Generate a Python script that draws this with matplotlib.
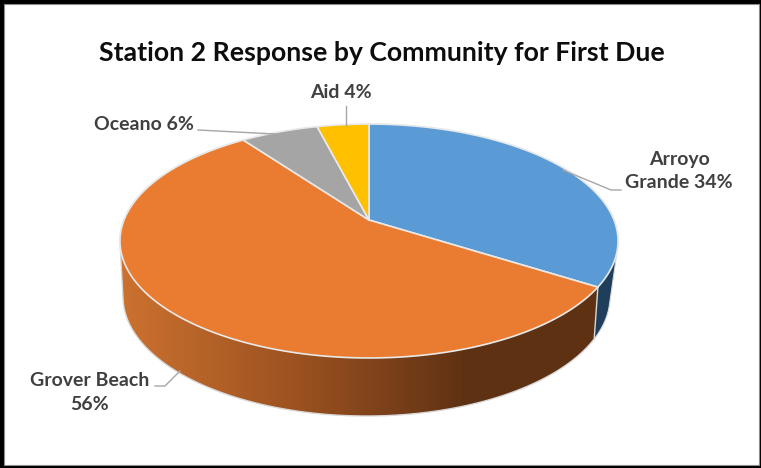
import numpy as np
import matplotlib
matplotlib.use('Agg')
import matplotlib.pyplot as plt
from matplotlib.colors import LinearSegmentedColormap
from matplotlib.patches import Polygon, Rectangle

plt.rcParams['font.family'] = ['Lato', 'DejaVu Sans']

# Share of first due responses per community
communities = ['Arroyo Grande', 'Grover Beach', 'Oceano', 'Aid']
shares = [34, 56, 6, 4]
top_colors = ['#5B9BD5', '#EA7C31', '#A5A5A5', '#FFC000']

cx, cy = 369, 220
W, H = 761, 468


# tilted disc: unit circle -> pixels, k gives the perspective
def rim(theta, b=245.0, a=113.2, k=0.1795, dx=0.0, dy=0.0):
    u, v = np.sin(theta), np.cos(theta)
    return cx + dx + b*u/(1 + k*v), cy + dy - a*v/(1 + k*v)


def low_rim(theta):
    return rim(theta, b=237.3, a=113.3, k=0.224, dx=-2.5, dy=50.0)


# outline of a wall: convex hull of the two rims over the angle range
def wall_outline(t0, t1, n=300):
    t = np.linspace(t0, t1, n)
    x1, y1 = rim(t)
    x2, y2 = low_rim(t)
    pts = sorted(zip(np.r_[x1, x2], np.r_[y1, y2]))

    def half(points):
        out = []
        for p in points:
            while len(out) > 1 and ((out[-1][0]-out[-2][0])*(p[1]-out[-2][1])
                                    - (out[-1][1]-out[-2][1])*(p[0]-out[-2][0])) <= 0:
                out.pop()
            out.append(p)
        return out[:-1]

    return np.array(half(pts) + half(pts[::-1]))


fig = plt.figure(figsize=(W/100, H/100), dpi=100, facecolor='black')
ax = fig.add_axes([0, 0, 1, 1])
ax.set_xlim(0, W)
ax.set_ylim(H, 0)
ax.axis('off')
ax.add_patch(Rectangle((4, 4), 755, 461, fc='white', ec='#8c8c8c', lw=0.8, zorder=0))

edges = np.radians(np.cumsum([0] + shares) * 3.6)

# side wall of the blue slice, flat dark colour
ax.add_patch(Polygon(wall_outline(edges[0], edges[1]), fc='#1F3E5C', ec='#d9d9d9',
                     lw=0.8, zorder=1))

# side wall of the orange slice, shaded left to right
wall = Polygon(wall_outline(edges[1], edges[2]), fc='none', ec='#d9d9d9', lw=1.0, zorder=3)
ax.add_patch(wall)
shade = LinearSegmentedColormap.from_list('wall', [
    (0.0, '#CC7230'), (0.36, '#9B5120'), (0.70, '#5E3113'), (1.0, '#5E3113')])
im = ax.imshow(np.linspace(0, 1, 500)[None, :], cmap=shade, vmin=0, vmax=1,
               extent=[119, 619, 420, 230], aspect='auto', zorder=2)
im.set_clip_path(wall)
ax.set_xlim(0, W)
ax.set_ylim(H, 0)

# top faces
for i in range(len(shares)):
    t = np.linspace(edges[i], edges[i+1], 200)
    x, y = rim(t)
    pts = np.c_[np.r_[cx, x], np.r_[cy, y]]
    ax.add_patch(Polygon(pts, closed=True, fc=top_colors[i], ec='#e9e9e9', lw=1.2,
                         joinstyle='round', zorder=4))

# leader lines
lead = '#a6a6a6'
ax.plot([346, 346], [106, 125], color=lead, lw=1.0, zorder=5)
ax.plot([198, 275], [130, 134], color=lead, lw=1.0, zorder=5)
ax.plot([621, 611, 563], [190, 190, 170], color=lead, lw=1.0, zorder=5)
ax.plot([155, 165, 180], [386, 386, 371], color=lead, lw=1.0, zorder=5)

ax.text(382, 53, 'Station 2 Response by Community for First Due', ha='center', va='center',
        fontsize=19.15, fontweight='bold', color='#0d0d0d')

lab = dict(fontsize=14, fontweight='bold', color='#404040', ha='center', va='center',
           linespacing=1.5)
ax.text(341, 92.5, f'{communities[3]} {shares[3]}%', **lab)
ax.text(144, 124.5, f'{communities[2]} {shares[2]}%', **lab)
ax.text(679, 171, f'Arroyo\nGrande {shares[0]}%', **lab)
ax.text(90, 393, f'{communities[1]}\n{shares[1]}%', **lab)

fig.savefig('out.png', dpi=100, facecolor='black')
